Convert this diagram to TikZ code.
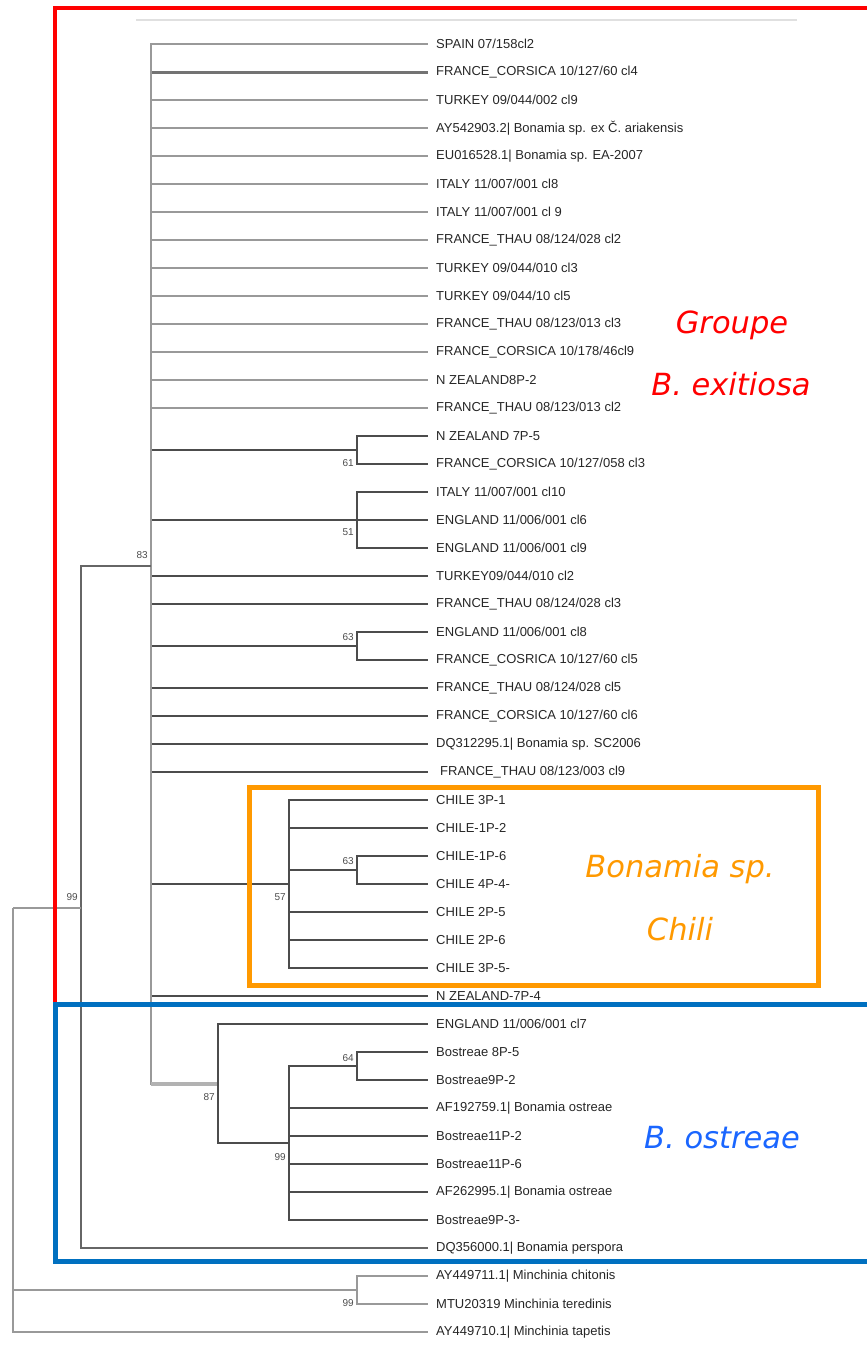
\documentclass[tikz,border=0pt]{standalone}
\usepackage{fontspec}
\setmainfont{Liberation Sans}
\newfontfamily\groupfont{DejaVu Sans}
\definecolor{grpred}{HTML}{FF0000}
\definecolor{grporange}{HTML}{FF9900}
\definecolor{grpblue}{HTML}{0070C0}
\definecolor{grpbluetext}{HTML}{1A66FF}
\tikzset{
  leaf/.style={anchor=west, inner xsep=8pt, inner ysep=1pt, text=black!85,
    font=\fontsize{13}{15}\selectfont},
  boot/.style={anchor=east, inner sep=1pt, text=black!70,
    font=\fontsize{10}{12}\selectfont},
  branch/.style={draw=black!70, line width=1.2pt},
  palebranch/.style={draw=black!40, line width=1.6pt},
  grouplabel/.style={anchor=base, inner sep=0pt,
    font=\groupfont\itshape\fontsize{30.5}{36}\selectfont},
  groupbox/.style={line width=5pt},
}

\begin{document}
\begin{tikzpicture}[x=1pt, y=-1pt]
    \useasboundingbox (0,0) rectangle (867,1358);
    \draw[black!12, line width=2pt] (136,20) -- (797,20);

    % leaves
    \node[leaf] (l1) at (428,44) {SPAIN 07/158cl2};
    \node[leaf] (l2) at (428,72) {FRANCE\_CORSICA 10/127/60 cl4};
    \node[leaf] (l3) at (428,100) {TURKEY 09/044/002 cl9};
    \node[leaf] (l4) at (428,128) {AY542903.2| Bonamia sp. ex Č. ariakensis};
    \node[leaf] (l5) at (428,156) {EU016528.1| Bonamia sp. EA-2007};
    \node[leaf] (l6) at (428,184) {ITALY 11/007/001 cl8};
    \node[leaf] (l7) at (428,212) {ITALY 11/007/001 cl 9};
    \node[leaf] (l8) at (428,240) {FRANCE\_THAU 08/124/028 cl2};
    \node[leaf] (l9) at (428,268) {TURKEY 09/044/010 cl3};
    \node[leaf] (l10) at (428,296) {TURKEY 09/044/10 cl5};
    \node[leaf] (l11) at (428,324) {FRANCE\_THAU 08/123/013 cl3};
    \node[leaf] (l12) at (428,352) {FRANCE\_CORSICA 10/178/46cl9};
    \node[leaf] (l13) at (428,380) {N ZEALAND8P-2};
    \node[leaf] (l14) at (428,408) {FRANCE\_THAU 08/123/013 cl2};
    \node[leaf] (l15) at (428,436) {N ZEALAND 7P-5};
    \node[leaf] (l16) at (428,464) {FRANCE\_CORSICA 10/127/058 cl3};
    \node[leaf] (l17) at (428,492) {ITALY 11/007/001 cl10};
    \node[leaf] (l18) at (428,520) {ENGLAND 11/006/001 cl6};
    \node[leaf] (l19) at (428,548) {ENGLAND 11/006/001 cl9};
    \node[leaf] (l20) at (428,576) {TURKEY09/044/010 cl2};
    \node[leaf] (l21) at (428,604) {FRANCE\_THAU 08/124/028 cl3};
    \node[leaf] (l22) at (428,632) {ENGLAND 11/006/001 cl8};
    \node[leaf] (l23) at (428,660) {FRANCE\_COSRICA 10/127/60 cl5};
    \node[leaf] (l24) at (428,688) {FRANCE\_THAU 08/124/028 cl5};
    \node[leaf] (l25) at (428,716) {FRANCE\_CORSICA 10/127/60 cl6};
    \node[leaf] (l26) at (428,744) {DQ312295.1| Bonamia sp. SC2006};
    \node[leaf, inner xsep=12pt] (l27) at (428,772) {FRANCE\_THAU 08/123/003 cl9};
    \node[leaf] (l28) at (428,800) {CHILE 3P-1};
    \node[leaf] (l29) at (428,828) {CHILE-1P-2};
    \node[leaf] (l30) at (428,856) {CHILE-1P-6};
    \node[leaf] (l31) at (428,884) {CHILE 4P-4-};
    \node[leaf] (l32) at (428,912) {CHILE 2P-5};
    \node[leaf] (l33) at (428,940) {CHILE 2P-6};
    \node[leaf] (l34) at (428,968) {CHILE 3P-5-};
    \node[leaf] (l35) at (428,996) {N ZEALAND-7P-4};
    \node[leaf] (l36) at (428,1024) {ENGLAND 11/006/001 cl7};
    \node[leaf] (l37) at (428,1052) {Bostreae 8P-5};
    \node[leaf] (l38) at (428,1080) {Bostreae9P-2};
    \node[leaf] (l39) at (428,1108) {AF192759.1| Bonamia ostreae};
    \node[leaf] (l40) at (428,1136) {Bostreae11P-2};
    \node[leaf] (l41) at (428,1164) {Bostreae11P-6};
    \node[leaf] (l42) at (428,1192) {AF262995.1| Bonamia ostreae};
    \node[leaf] (l43) at (428,1220) {Bostreae9P-3-};
    \node[leaf] (l44) at (428,1248) {DQ356000.1| Bonamia perspora};
    \node[leaf] (l45) at (428,1276) {AY449711.1| Minchinia chitonis};
    \node[leaf] (l46) at (428,1304) {MTU20319 Minchinia teredinis};
    \node[leaf] (l47) at (428,1332) {AY449710.1| Minchinia tapetis};

    % inner nodes
    \coordinate (root) at (13,908);
    \coordinate (n99) at (81,908);
    \coordinate (n83) at (151,566);
    \coordinate (n61) at (357,450);
    \coordinate (n51) at (357,520);
    \coordinate (n63) at (357,646);
    \coordinate (n57) at (289,884);
    \coordinate (n63c) at (357,870);
    \coordinate (n87) at (218,1084);
    \coordinate (n99o) at (289,1143);
    \coordinate (n64) at (357,1066);
    \coordinate (nmin) at (357,1290);

    % branches
    \draw[palebranch] (n83) |- (l1.west) (n83) |- (l3.west) (n83) |- (l4.west)
        (n83) |- (l5.west) (n83) |- (l6.west) (n83) |- (l7.west) (n83) |- (l8.west)
        (n83) |- (l9.west) (n83) |- (l10.west) (n83) |- (l11.west)
        (n83) |- (l12.west) (n83) |- (l13.west) (n83) |- (l14.west);
    \draw[draw=black!55, line width=3pt] (n83 |- l2.west) -- (l2.west);
    \draw[branch] (n83) |- (n61) (n61) |- (l15.west) (n61) |- (l16.west);
    \draw[branch] (n83) |- (n51) (n51) |- (l17.west) (n51) |- (l18.west) (n51) |- (l19.west);
    \draw[branch] (n83) |- (l20.west) (n83) |- (l21.west);
    \draw[branch] (n83) |- (n63) (n63) |- (l22.west) (n63) |- (l23.west);
    \draw[branch] (n83) |- (l24.west) (n83) |- (l25.west) (n83) |- (l26.west) (n83) |- (l27.west);
    \draw[branch] (n83) |- (n57) (n57) |- (l28.west) (n57) |- (l29.west)
        (n57) |- (l32.west) (n57) |- (l33.west) (n57) |- (l34.west);
    \draw[branch] (n57) |- (n63c) (n63c) |- (l30.west) (n63c) |- (l31.west);
    \draw[branch] (n83) |- (l35.west);
    \draw[palebranch] (n83) |- (n87) (n83) |- (l1.west);
    \draw[draw=black!30, line width=4pt] (n83 |- n87) -- (n87);
    \draw[branch] (n87) |- (l36.west) (n87) |- (n99o);
    \draw[branch] (n99o) |- (n64) (n64) |- (l37.west) (n64) |- (l38.west);
    \draw[branch] (n99o) |- (l39.west) (n99o) |- (l40.west) (n99o) |- (l41.west)
        (n99o) |- (l42.west) (n99o) |- (l43.west);
    \draw[draw=black!60, line width=2.2pt] (n99) |- (n83) (n99) |- (l44.west);
    \draw[palebranch] (root) -- (n99) (root) |- (nmin) (root) |- (l47.west);
    \draw[palebranch] (nmin) |- (l45.west) (nmin) |- (l46.west);

    % bootstrap values
    \node[boot] (b83) at (149,555) {83};
    \node[boot] (b99) at (79,897) {99};
    \node[boot] (b61) at (355,463) {61};
    \node[boot] (b51) at (355,532) {51};
    \node[boot] (b63) at (355,637) {63};
    \node[boot] (b57) at (287,897) {57};
    \node[boot] (b63c) at (355,861) {63};
    \node[boot] (b87) at (216,1097) {87};
    \node[boot] (b99o) at (287,1157) {99};
    \node[boot] (b64) at (355,1058) {64};
    \node[boot] (bmin) at (355,1303) {99};

    % groups
    \draw[grpred, line width=3.5pt] (55,1004) -- (55,8) -- (875,8);
    \draw[grporange, groupbox] (249,787) rectangle (818,985);
    \draw[grpblue, groupbox] (55,1004) rectangle (880,1261);
    \node[grouplabel, text=grpred] (gexit1) at (732,333) {Groupe};
    \node[grouplabel, text=grpred] (gexit2) at (731,395) {B. exitiosa};
    \node[grouplabel, text=grporange] (gchili1) at (680,877) {Bonamia sp.};
    \node[grouplabel, text=grporange] (gchili2) at (680,940) {Chili};
    \node[grouplabel, text=grpbluetext] (gostr) at (722,1148) {B. ostreae};
\end{tikzpicture}
\end{document}
